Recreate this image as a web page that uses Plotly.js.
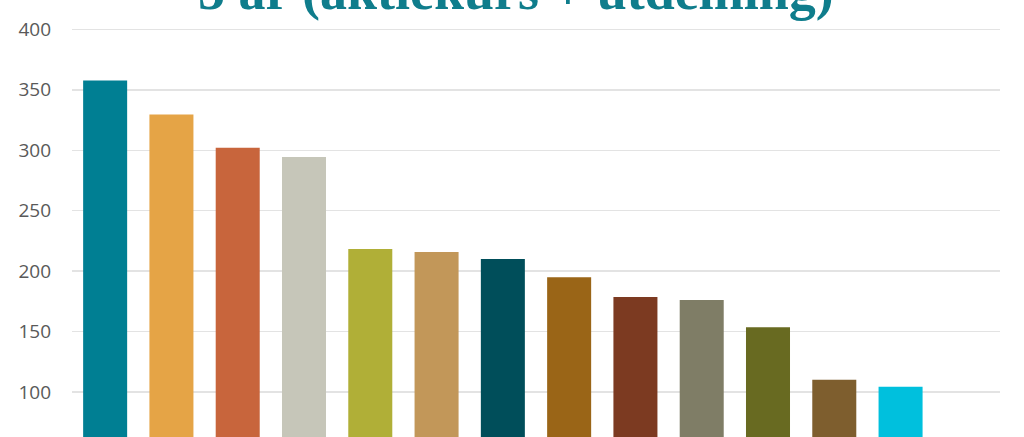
<!DOCTYPE html>
<html>
<head>
<meta charset="utf-8">
<script src="https://cdn.plot.ly/plotly-3.0.1.min.js"></script>
<style>
  html, body { margin: 0; padding: 0; background: #fff; }
  #chart { width: 1024px; height: 437px; }
</style>
</head>
<body>
<div id="chart"></div>
<script>
// === Data === //
var categories = ['1', '2', '3', '4', '5', '6', '7', '8', '9', '10', '11', '12', '13'];
var values = [357.7, 329.5, 302, 294.5, 218.3, 215.8, 210, 194.8, 178.5, 176, 153.6, 110, 104.2];
var barColors = ['#007f93', '#e5a446', '#c8653c', '#c6c6b9', '#b0af37', '#c29759', '#004e5a',
                 '#9a6517', '#7c3a21', '#7f7d66', '#686a21', '#7e5e2e', '#00c0dd'];
var yTicks = [100, 150, 200, 250, 300, 350, 400];
var titleText = '5 år (aktiekurs + utdelning)';

// === Plot === //
var set = [
    {
        x: categories,
        y: values,
        type: 'bar',
        marker: { color: barColors },
        hoverinfo: 'y'
    }
];

var layout = {
    width: 1024,
    height: 437,
    margin: { l: 72, r: 24, t: 27, b: 0 },
    paper_bgcolor: '#ffffff',
    plot_bgcolor: '#ffffff',
    showlegend: false,
    bargap: 0.336,
    // title sits partly above the top edge, so it is drawn as an annotation
    annotations: [
        {
            text: '<b>' + titleText + '</b>',
            font: { family: 'Liberation Serif, serif', size: 54, color: '#0f7d8c' },
            xref: 'paper',
            yref: 'paper',
            x: 0.478,
            y: 1,
            xanchor: 'center',
            yanchor: 'bottom',
            yshift: 4,
            showarrow: false
        }
    ],
    xaxis: {
        type: 'category',
        range: [-0.5, 13.5],
        showticklabels: false,
        showgrid: false,
        zeroline: false,
        showline: false
    },
    yaxis: {
        range: [62.7, 402],
        tickvals: yTicks,
        showgrid: true,
        gridcolor: '#e3e3e3',
        gridwidth: 1.5,
        zeroline: false,
        showline: false,
        ticks: '',
        ticklabelstandoff: 20,
        tickfont: { family: 'Open Sans, sans-serif', size: 19, color: '#595959' }
    }
};

Plotly.newPlot('chart', set, layout, { displayModeBar: false, staticPlot: true });
</script>
</body>
</html>
